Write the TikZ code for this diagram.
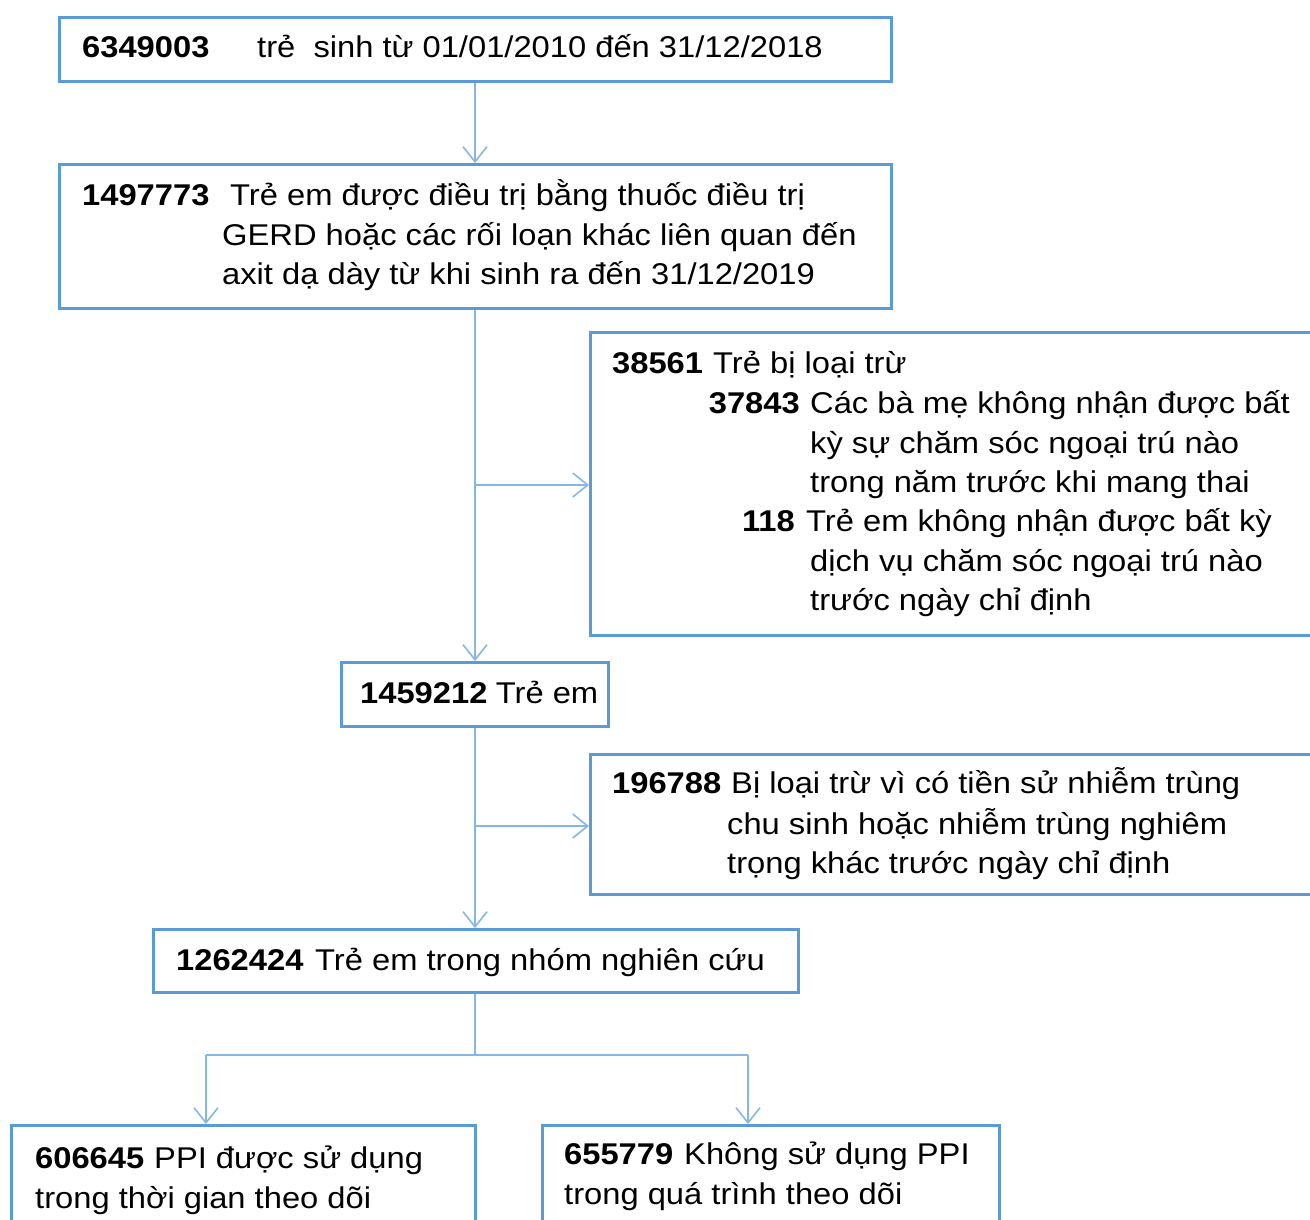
\documentclass[tikz,border=0pt]{standalone}
\usepackage{fontspec}
\setmainfont{Liberation Sans}[FakeStretch=1.09]
\usetikzlibrary{arrows.meta}
\definecolor{boxblue}{RGB}{91,155,213}
\definecolor{arrblue}{RGB}{135,182,228}
\begin{document}
\begin{tikzpicture}[x=1pt,y=-1pt,
  box/.style={draw=boxblue,line width=2.6pt,inner sep=0pt,anchor=north west},
  txt/.style={anchor=base west,inner sep=0pt,font=\fontsize{30}{40}\selectfont},
  num/.style={txt,font=\fontsize{30}{40}\selectfont\bfseries},
  numr/.style={anchor=base east,inner sep=0pt,font=\fontsize{30}{40}\selectfont\bfseries},
  conn/.style={draw=arrblue,line width=1.8pt},
  arr/.style={conn,-{Straight Barb[length=15pt,width=24pt,line width=1.6pt]}}]
\clip (0,0) rectangle (1310,1220);
\fill[white] (0,0) rectangle (1310,1220);
% boxes
\node[box,minimum width=832pt,minimum height=64pt] (b1) at (58,16) {};
\node[box,minimum width=832pt,minimum height=144pt] (b2) at (58,163) {};
\node[box,minimum width=740pt,minimum height=303pt] (b3) at (589,331) {};
\node[box,minimum width=267pt,minimum height=64pt] (b4) at (340,661) {};
\node[box,minimum width=740pt,minimum height=140pt] (b5) at (589,753) {};
\node[box,minimum width=645pt,minimum height=63pt] (b6) at (152,928) {};
\node[box,minimum width=464pt,minimum height=140pt] (b7) at (10,1124) {};
\node[box,minimum width=457pt,minimum height=140pt] (b8) at (541,1124) {};
% texts
\node[num] (t1a) at (82,58) {6349003};
\node[txt] (t1b) at (257,58) {trẻ\ \ sinh từ 01/01/2010 đến 31/12/2018};
\node[num] (t2a) at (82,205) {1497773};
\node[txt] (t2b) at (230,205) {Trẻ em được điều trị bằng thuốc điều trị};
\node[txt] (t2c) at (222,245) {GERD hoặc các rối loạn khác liên quan đến};
\node[txt] (t2d) at (222,284) {axit dạ dày từ khi sinh ra đến 31/12/2019};
\node[num] (t3a) at (612,373) {38561};
\node[txt] (t3b) at (713,373) {Trẻ bị loại trừ};
\node[numr] (t3c) at (800,413) {37843};
\node[txt] (t3d) at (810,413) {Các bà mẹ không\ nhận\ được bất};
\node[txt] (t3e) at (810,453) {kỳ sự chăm sóc ngoại trú nào};
\node[txt] (t3f) at (810,492) {trong năm trước khi mang thai};
\node[numr] (t3g) at (795,531) {118};
\node[txt] (t3h) at (806,531) {Trẻ em không\ nhận\ được bất kỳ};
\node[txt] (t3i) at (810,571) {dịch vụ chăm sóc ngoại trú nào};
\node[txt] (t3j) at (810,610) {trước ngày chỉ định};
\node[num] (t4a) at (360,703) {1459212};
\node[txt,xshift=8pt] (t4b) at (t4a.base east) {Trẻ em};
\node[num] (t5a) at (612,793) {196788};
\node[txt] (t5b) at (731,793) {Bị loại trừ vì có tiền sử nhiễm\ trùng};
\node[txt] (t5c) at (727,834) {chu sinh\ hoặc nhiễm\ trùng\ nghiêm};
\node[txt] (t5d) at (727,873) {trọng khác trước ngày chỉ định};
\node[num] (t6a) at (176,970) {1262424};
\node[txt] (t6b) at (315,970) {Trẻ em trong nhóm\ nghiên\ cứu};
\node[num] (t7a) at (35,1168) {606645};
\node[txt] (t7b) at (154,1168) {PPI được sử dụng};
\node[txt] (t7c) at (35,1208) {trong thời gian theo dõi};
\node[num] (t8a) at (564,1164) {655779};
\node[txt] (t8b) at (684,1164) {Không\ sử dụng\ PPI};
\node[txt] (t8c) at (564,1204) {trong quá trình theo dõi};
% connectors
\coordinate (j1) at (475,485);
\coordinate (j2) at (475,826);
\coordinate (j3) at (475,1055);
\coordinate (jl) at (206,1055);
\coordinate (jr) at (748,1055);
\draw[arr] (b1.south -| j1) -- (b2.north -| j1);
\draw[arr] (b2.south -| j1) -- (b4.north -| j1);
\draw[arr] (j1) -- (j1 -| b3.west);
\draw[arr] (b4.south -| j2) -- (b6.north -| j2);
\draw[arr] (j2) -- (j2 -| b5.west);
\draw[conn] (b6.south -| j3) -- (j3);
\draw[conn] (jl) -- (jr);
\draw[arr] (jl) -- (jl |- b7.north);
\draw[arr] (jr) -- (jr |- b8.north);
\end{tikzpicture}
\end{document}
